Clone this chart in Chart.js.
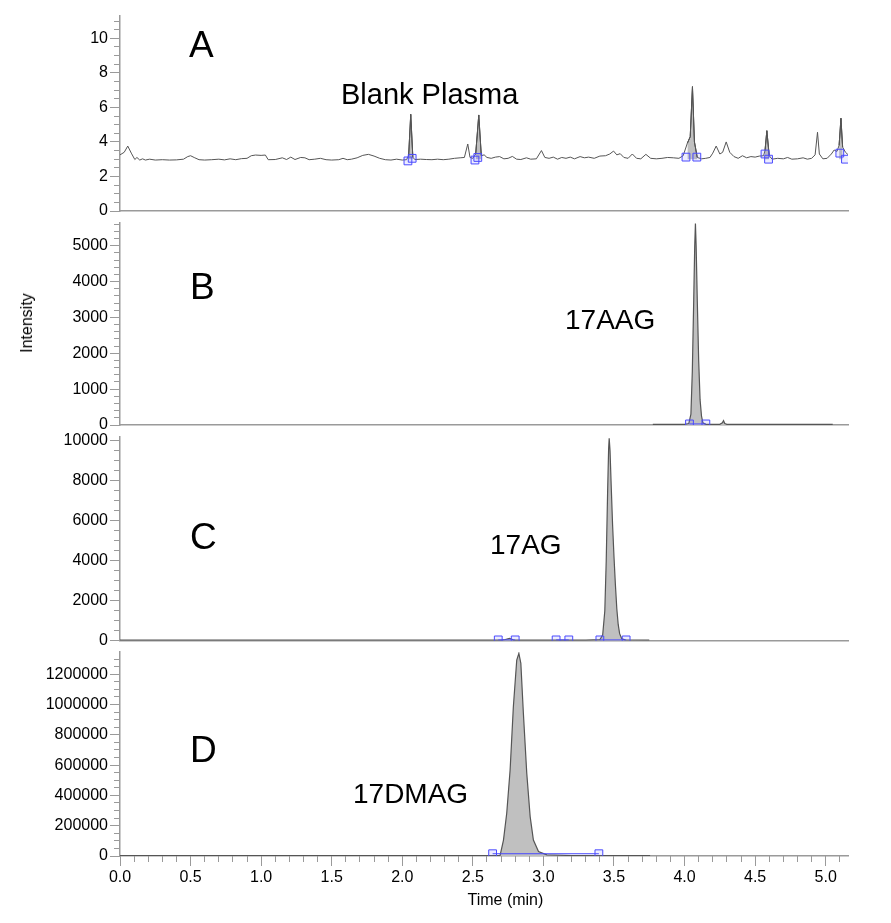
<!DOCTYPE html>
<html>
<head>
<meta charset="utf-8">
<script src="https://cdn.jsdelivr.net/npm/chart.js@4.4.1/dist/chart.umd.min.js"></script>
<style>
  body { margin: 0; background: #fff; width: 891px; height: 923px; position: relative; overflow: hidden;
         font-family: 'Liberation Sans', Arial, sans-serif; }
  canvas { position: absolute; left: 0; }
  .lbl { position: absolute; color: #000; white-space: nowrap; line-height: 1; }
</style>
</head>
<body>
<canvas id="chartA" width="891" height="224" style="top:0px"></canvas>
<canvas id="chartB" width="891" height="222" style="top:216px"></canvas>
<canvas id="chartC" width="891" height="224" style="top:430px"></canvas>
<canvas id="chartD" width="891" height="278" style="top:645px"></canvas>

<div class="lbl" style="left:189px; top:25.7px; font-size:37px">A</div>
<div class="lbl" style="left:190px; top:268px; font-size:37px">B</div>
<div class="lbl" style="left:190px; top:518.2px; font-size:37px">C</div>
<div class="lbl" style="left:190px; top:731.4px; font-size:37px">D</div>
<div class="lbl" style="left:341px; top:79.5px; font-size:29px">Blank Plasma</div>
<div class="lbl" style="left:565px; top:305.6px; font-size:28px">17AAG</div>
<div class="lbl" style="left:490px; top:530.6px; font-size:28px">17AG</div>
<div class="lbl" style="left:353px; top:780.3px; font-size:28px">17DMAG</div>
<div class="lbl" style="left:467.5px; top:891.5px; font-size:16px">Time (min)</div>
<div class="lbl" style="left:27px; top:323px; font-size:16px; transform:translate(-50%,-50%) rotate(-90deg)">Intensity</div>

<script>
// A - blank plasma
var timeA = [0.00,0.03,0.055,0.08,0.105,0.12,0.14,0.16,0.18,0.21,
  0.25,0.30,0.35,0.40,0.45,0.48,0.50,0.53,0.56,0.60,
  0.65,0.70,0.74,0.78,0.82,0.86,0.90,0.93,0.96,1.00,
  1.03,1.05,1.10,1.15,1.18,1.21,1.24,1.28,1.31,1.34,
  1.38,1.42,1.46,1.50,1.55,1.58,1.61,1.64,1.68,1.72,
  1.76,1.80,1.84,1.88,1.92,1.96,2.00,2.03,2.045,2.06,
  2.075,2.09,2.13,2.17,2.21,2.25,2.29,2.33,2.37,2.41,
  2.44,2.464,2.48,2.50,2.52,2.542,2.56,2.58,2.60,2.63,
  2.66,2.69,2.72,2.75,2.78,2.81,2.84,2.88,2.91,2.95,
  2.986,3.01,3.04,3.07,3.10,3.13,3.16,3.19,3.22,3.26,
  3.29,3.32,3.36,3.40,3.44,3.47,3.497,3.52,3.544,3.57,
  3.60,3.63,3.66,3.69,3.726,3.76,3.80,3.84,3.88,3.92,
  3.96,3.99,4.02,4.04,4.056,4.07,4.09,4.12,4.15,4.18,
  4.20,4.224,4.25,4.27,4.295,4.32,4.35,4.38,4.41,4.44,
  4.47,4.50,4.53,4.56,4.57,4.583,4.60,4.62,4.66,4.70,
  4.73,4.76,4.80,4.84,4.87,4.90,4.925,4.942,4.955,4.98,
  5.01,5.04,5.06,5.08,5.095,5.108,5.12,5.14,5.16];
var intensityA = [3.25,3.40,3.76,3.35,2.98,3.10,2.95,3.02,2.95,3.00,
  2.95,2.97,2.95,2.96,3.00,3.15,3.20,3.08,2.97,2.95,
  2.97,3.00,2.96,3.02,2.97,3.03,3.05,3.20,3.24,3.22,
  3.24,2.97,2.98,3.08,2.98,3.12,2.98,3.10,3.08,2.97,
  3.00,3.05,2.97,2.95,2.97,3.05,2.97,3.00,3.08,3.22,
  3.28,3.18,3.05,2.97,2.95,3.00,2.95,2.97,3.20,5.60,
  3.10,2.98,3.00,2.98,2.97,3.00,2.97,3.00,3.05,3.08,
  3.10,3.88,3.10,3.05,3.30,5.56,3.20,3.25,3.10,3.05,
  3.12,3.15,3.02,3.05,3.16,3.00,2.98,3.08,3.00,3.02,
  3.50,3.10,3.05,3.12,3.00,3.10,3.05,3.12,3.02,3.15,
  3.08,3.12,3.05,3.18,3.20,3.30,3.47,3.25,3.32,3.10,
  3.05,3.30,3.05,3.02,3.28,3.05,3.02,3.05,3.10,3.08,
  3.05,3.20,3.93,4.30,7.20,4.00,3.10,3.02,3.05,3.10,
  3.35,3.76,3.30,3.40,4.00,3.40,3.15,3.05,3.20,3.08,
  3.15,3.12,3.18,3.20,3.50,4.65,3.20,3.00,3.05,3.02,
  3.10,3.00,3.02,3.08,3.00,3.05,3.25,4.56,3.30,3.02,
  3.05,3.30,3.53,3.45,3.80,5.37,3.70,3.40,3.25];
var peakStartA = [2.04, 2.515, 4.01, 4.565, 5.09];
var peakEndA   = [2.08, 2.565, 4.09, 4.600, 5.125];
var markTimeA = [2.04, 2.07, 2.515, 2.535, 4.01, 4.087, 4.57, 4.595, 5.10, 5.14];
var markIntA  = [2.90, 3.05, 2.95, 3.10, 3.12, 3.12, 3.30, 3.00, 3.35, 3.00];

// B - 17AAG
var timeB = [3.775,3.90,4.00,4.03,4.045,4.055,4.065,4.072,4.077,4.082,
  4.09,4.10,4.11,4.12,4.13,4.15,4.25,4.268,4.276,4.285,4.30,4.50,5.05];
var intensityB = [20,20,20,40,300,1500,3500,5000,5620,5000,
  3500,1800,700,250,60,20,20,60,120,40,20,20,20];
var markTimeB = [4.035, 4.151];
var markIntB  = [30, 30];

// C - 17AG
var timeC = [0.00,1.00,2.00,2.70,2.73,2.76,2.79,3.30,3.40,3.42,
  3.435,3.445,3.455,3.462,3.466,3.472,3.48,3.49,3.50,3.51,
  3.52,3.53,3.54,3.555,3.58,3.75];
var intensityC = [30,30,30,30,60,120,30,30,50,300,
  1500,4000,7500,9600,10120,9500,7800,5800,4200,2800,
  1600,800,350,100,40,30];
var markTimeC = [2.68, 2.80, null, 3.09, 3.18, null, 3.40, 3.586];
var markIntC  = [40, 40, null, 40, 40, null, 40, 40];

// D - 17DMAG
var timeD = [0.00,1.00,2.00,2.60,2.693,2.717,2.74,2.764,2.787,2.811,
  2.826,2.84,2.858,2.882,2.906,2.929,2.965,3.024,3.20,3.756];
var intensityD = [3000,3000,3000,3000,4000,105000,282000,568000,986000,1294000,
  1338000,1273000,942000,546000,260000,105000,29000,8000,3000,3000];
var markTimeD = [2.64, 3.393];
var markIntD  = [15000, 15000];

// axes
var timeMin = 0, timeMax = 5.158;
var timeMajorTicks = [0,0.5,1.0,1.5,2.0,2.5,3.0,3.5,4.0,4.5,5.0];
var yMajorA = [0,2,4,6,8,10];
var yMajorB = [0,1000,2000,3000,4000,5000];
var yMajorC = [0,2000,4000,6000,8000,10000];
var yMajorD = [0,200000,400000,600000,800000,1000000,1200000];
var yMaxA = 11.29, yMaxB = 5633, yMaxC = 10185, yMaxD = 1347000;

var axisColor = '#9a9a9a';
var traceColor = '#555555';
var peakFill = '#c0c0c0';
var markColor = '#4a4aff';
var fontFamily = "'Liberation Sans', Arial, sans-serif";

function steps(start, stop, step) {
  var out = [];
  var n = Math.round((stop - start) / step);
  for (var i = 0; i <= n; i++) out.push(+(start + i * step).toFixed(6));
  return out;
}

function toPoints(xs, ys) {
  var pts = [];
  for (var i = 0; i < xs.length; i++) pts.push({x: xs[i], y: ys[i]});
  return pts;
}

function setTicks(list) {
  return function(axis) {
    axis.ticks = list.map(function(v){ return {value: v}; });
  };
}

function markerSet(xs, ys, joined) {
  return {
    data: toPoints(xs, ys),
    showLine: joined,
    borderColor: markColor,
    borderWidth: 1,
    pointStyle: 'rect',
    pointRadius: 5.5,
    pointBorderColor: markColor,
    pointBackgroundColor: 'rgba(110,110,255,0.12)',
    pointBorderWidth: 1,
    spanGaps: false,
    fill: false,
    order: 0
  };
}

function makePanel(id, datasets, yMax, yMajor, yMinor, pad, last) {
  var scales = {
    x: {
      type: 'linear', min: timeMin, max: timeMax, position: 'bottom', weight: 1,
      border: {color: axisColor, width: 1.5},
      grid: {drawOnChartArea: false, drawTicks: last, tickLength: 10, tickColor: axisColor, tickWidth: 1},
      ticks: {display: last, padding: 2, color: '#000', font: {family: fontFamily, size: 16},
              maxRotation: 0, autoSkip: false,
              callback: function(v){ return v.toFixed(1); }},
      afterBuildTicks: setTicks(timeMajorTicks),
      afterFit: function(axis){ axis.height = last ? 67 : 0; }
    },
    y: {
      type: 'linear', min: 0, max: yMax, position: 'left', weight: 1,
      border: {color: axisColor, width: 1.5},
      grid: {drawOnChartArea: false, tickLength: 10, tickColor: axisColor, tickWidth: 1},
      ticks: {padding: 2, color: '#000', font: {family: fontFamily, size: 16}, autoSkip: false,
              callback: function(v){ return String(v); }},
      afterBuildTicks: setTicks(yMajor),
      afterFit: function(axis){
        axis.width = 120;
        axis.paddingTop = 0;
        axis.paddingBottom = 0;
      }
    },
    ym: {
      type: 'linear', min: 0, max: yMax, position: 'left', weight: 0,
      border: {display: false},
      grid: {drawOnChartArea: false, tickLength: 6, tickColor: axisColor, tickWidth: 1},
      ticks: {display: false, autoSkip: false},
      afterBuildTicks: setTicks(yMinor),
      afterFit: function(axis){ axis.width = 0; }
    }
  };
  if (last) {
    scales.xm = {
      type: 'linear', min: timeMin, max: timeMax, position: 'bottom', weight: 0,
      border: {display: false},
      grid: {drawOnChartArea: false, tickLength: 6, tickColor: axisColor, tickWidth: 1},
      ticks: {display: false, autoSkip: false},
      afterBuildTicks: setTicks(steps(0, 5.1, 0.1)),
      afterFit: function(axis){ axis.height = 0; }
    };
  }
  return new Chart(document.getElementById(id), {
    type: 'line',
    data: {datasets: datasets},
    options: {
      responsive: false,
      animation: false,
      layout: {padding: {left: 0, right: 43, top: pad[0], bottom: pad[1]}},
      elements: {line: {tension: 0}, point: {radius: 0}},
      plugins: {legend: {display: false}, tooltip: {enabled: false}},
      scales: scales
    }
  });
}

// panel A: trace plus shaded integrated peaks
var traceA = toPoints(timeA, intensityA);
var setsA = [markerSet(markTimeA, markIntA, false),
  {data: traceA, borderColor: traceColor, borderWidth: 1, fill: false, order: 1}];
for (var p = 0; p < peakStartA.length; p++) {
  var seg = traceA.filter(function(pt){ return pt.x >= peakStartA[p] && pt.x <= peakEndA[p]; });
  setsA.push({data: seg, borderColor: '#333', borderWidth: 1, backgroundColor: peakFill,
              fill: {value: 3.0}, order: 2});
}
makePanel('chartA', setsA, yMaxA, yMajorA, steps(0, 11, 0.5), [16, 13], false);

makePanel('chartB', [
  markerSet(markTimeB, markIntB, true),
  {data: toPoints(timeB, intensityB), borderColor: traceColor, borderWidth: 1.2,
   backgroundColor: peakFill, fill: 'origin', order: 1}
], yMaxB, yMajorB, steps(0, 5600, 200), [7, 13], false);

makePanel('chartC', [
  markerSet(markTimeC, markIntC, true),
  {data: toPoints(timeC, intensityC), borderColor: traceColor, borderWidth: 1.2,
   backgroundColor: peakFill, fill: 'origin', order: 1}
], yMaxC, yMajorC, steps(0, 10000, 500), [7, 13.3], false);

makePanel('chartD', [
  markerSet(markTimeD, markIntD, true),
  {data: toPoints(timeD, intensityD), borderColor: traceColor, borderWidth: 1.2,
   backgroundColor: peakFill, fill: 'origin', order: 1}
], yMaxD, yMajorD, steps(0, 1300000, 50000), [7, 0], true);
</script>
</body>
</html>
